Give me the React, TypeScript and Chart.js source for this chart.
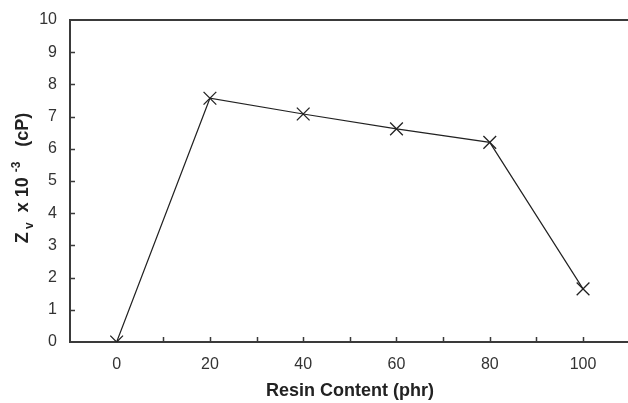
import React, { useEffect, useRef } from "react";
import { Chart, registerables } from "chart.js";

Chart.register(...registerables);

const resinContent = [0, 20, 40, 60, 80, 100];
const zvValues = [0, 7.57, 7.08, 6.62, 6.2, 1.65];
const xTickMarks = [10, 20, 30, 40, 50, 60, 70, 80, 90, 100];
const yTickMarks = [1, 2, 3, 4, 5, 6, 7, 8, 9];
const xTitle = "Resin Content (phr)";

const FONT = "'Liberation Sans', Arial, sans-serif";
const AXIS_COLOR = "#3a3a3a";

const decorPlugin = {
  id: "decor",
  afterDraw(chart: any) {
    const { ctx, chartArea, scales } = chart;
    const xs = scales.x;
    const ys = scales.y;
    ctx.save();
    // top line
    ctx.strokeStyle = AXIS_COLOR;
    ctx.lineWidth = 2;
    ctx.beginPath();
    ctx.moveTo(chartArea.left, chartArea.top);
    ctx.lineTo(chartArea.right, chartArea.top);
    ctx.stroke();
    // inner tick marks
    ctx.lineWidth = 1.5;
    ctx.beginPath();
    for (const v of xTickMarks) {
      const px = Math.round(xs.getPixelForValue(v)) + 0.5;
      ctx.moveTo(px, chartArea.bottom);
      ctx.lineTo(px, chartArea.bottom - 5);
    }
    for (const v of yTickMarks) {
      const py = Math.round(ys.getPixelForValue(v)) + 0.5;
      ctx.moveTo(chartArea.left, py);
      ctx.lineTo(chartArea.left + 5, py);
    }
    ctx.stroke();

    // x title
    ctx.fillStyle = "#222";
    ctx.font = `bold 18px ${FONT}`;
    ctx.textAlign = "center";
    ctx.textBaseline = "middle";
    ctx.fillText(xTitle, 350, 391);

    // y title with sub/superscript
    const parts: [string, number, number][] = [
      ["Z", 18, 0],
      [" v", 12, 5],
      ["  x 10 ", 18, 0],
      ["-3", 12, -8],
      ["   (cP)", 18, 0],
    ];
    ctx.translate(21, 178);
    ctx.rotate(-Math.PI / 2);
    let total = 0;
    for (const [t, s] of parts) {
      ctx.font = `bold ${s}px ${FONT}`;
      total += ctx.measureText(t).width;
    }
    let x = -total / 2;
    ctx.textAlign = "left";
    ctx.textBaseline = "alphabetic";
    for (const [t, s, dy] of parts) {
      ctx.font = `bold ${s}px ${FONT}`;
      ctx.fillText(t, x, 7 + dy);
      x += ctx.measureText(t).width;
    }
    ctx.restore();
  },
};

export default function App() {
  const ref = useRef<HTMLCanvasElement>(null);
  useEffect(() => {
    if (!ref.current) return;
    const chart = new Chart(ref.current, {
      type: "line",
      data: {
        datasets: [
          {
            data: resinContent.map((x, i) => ({ x, y: zvValues[i] })),
            borderColor: "#222",
            borderWidth: 1.2,
            pointStyle: "crossRot",
            pointRadius: 9,
            pointBorderColor: "#222",
            pointBorderWidth: 1.3,
            backgroundColor: "#222",
            tension: 0,
          },
        ],
      },
      options: {
        responsive: false,
        animation: false,
        layout: { padding: { top: 20, right: 0, left: 0, bottom: 0 } },
        plugins: { legend: { display: false }, tooltip: { enabled: false } },
        scales: {
          x: {
            type: "linear",
            min: -10,
            max: 110,
            afterFit: (s: any) => {
              s.height = 61;
              s.paddingLeft = 0;
              s.paddingRight = 0;
            },
            grid: { display: false, drawTicks: false },
            border: { display: true, color: AXIS_COLOR, width: 2 },
            ticks: {
              stepSize: 10,
              padding: 13,
              color: "#333",
              font: { family: FONT, size: 16 },
              maxRotation: 0,
              autoSkip: false,
              callback: (v: any) => (Number(v) % 20 === 0 ? String(v) : ""),
            },
          },
          y: {
            min: 0,
            max: 10,
            afterFit: (s: any) => {
              s.width = 70;
              s.paddingTop = 0;
              s.paddingBottom = 0;
            },
            grid: { display: false, drawTicks: false },
            border: { display: true, color: AXIS_COLOR, width: 2 },
            ticks: {
              stepSize: 1,
              padding: 13,
              color: "#333",
              font: { family: FONT, size: 16 },
            },
          },
        },
      },
      plugins: [decorPlugin],
    });
    return () => chart.destroy();
  }, []);
  return (
    <div style={{ position: "absolute", left: 0, top: 0, width: 628, height: 403, overflow: "hidden", background: "#fff" }}>
      <canvas ref={ref} width={640} height={403} style={{ display: "block" }} />
    </div>
  );
}
